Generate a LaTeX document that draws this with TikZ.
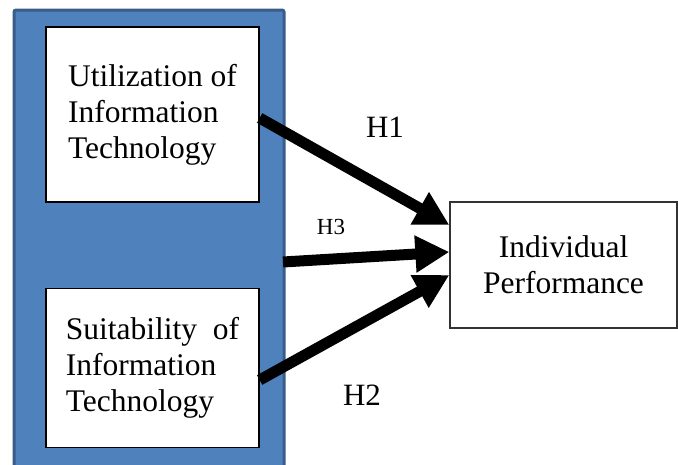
\documentclass[tikz,border=0pt]{standalone}
\usepackage{fontspec}
\setmainfont{Liberation Serif}
\usetikzlibrary{arrows.meta}
\definecolor{panelblue}{HTML}{4F81BD}
\definecolor{paneledge}{HTML}{385D8A}
\tikzset{
  varbox/.style={draw=black, line width=1.3pt, fill=white, align=left, inner sep=0pt,
    font=\fontsize{31.5}{36}\selectfont},
  hyparrow/.style={line width=11pt, -{Triangle[length=34pt,width=35pt]}},
  hyplabel/.style={font=\fontsize{31}{36}\selectfont},
}

\begin{document}
\begin{tikzpicture}[x=1pt, y=-1pt]
  \useasboundingbox (0,0) rectangle (678,464);

  % blue panel behind the two IT variables
  \draw[fill=panelblue, draw=paneledge, line width=3pt, rounded corners=2pt]
    (14,10) rectangle (284,480);

  % variables
  \node[varbox, minimum width=213pt, minimum height=175pt] (util) at (152.5,114.5)
    {Utilization of\\Information\\Technology};
  \node[varbox, minimum width=213pt, minimum height=159pt] (suit) at (152.5,368)
    {Suitability\hspace{0.5em}of\\Information\\Technology};
  \node[varbox, align=center, draw=black!80, minimum width=227pt, minimum height=126pt]
    (perf) at (563.5,265) {Individual\\Performance};

  % hypotheses
  \coordinate (panelout) at (283,262);
  \draw[hyparrow] ([yshift=-3.5pt]util.east) -- ([yshift=40pt]perf.west);
  \draw[hyparrow] (panelout) -- ([yshift=13pt]perf.west);
  \draw[hyparrow] ([yshift=-12pt]suit.east) -- ([yshift=-10pt]perf.west);

  \node[hyplabel] (h1) at (385,127) {H1};
  \node[hyplabel, font=\fontsize{23}{28}\selectfont] (h3) at (331,227) {H3};
  \node[hyplabel] (h2) at (362,395) {H2};
\end{tikzpicture}
\end{document}
